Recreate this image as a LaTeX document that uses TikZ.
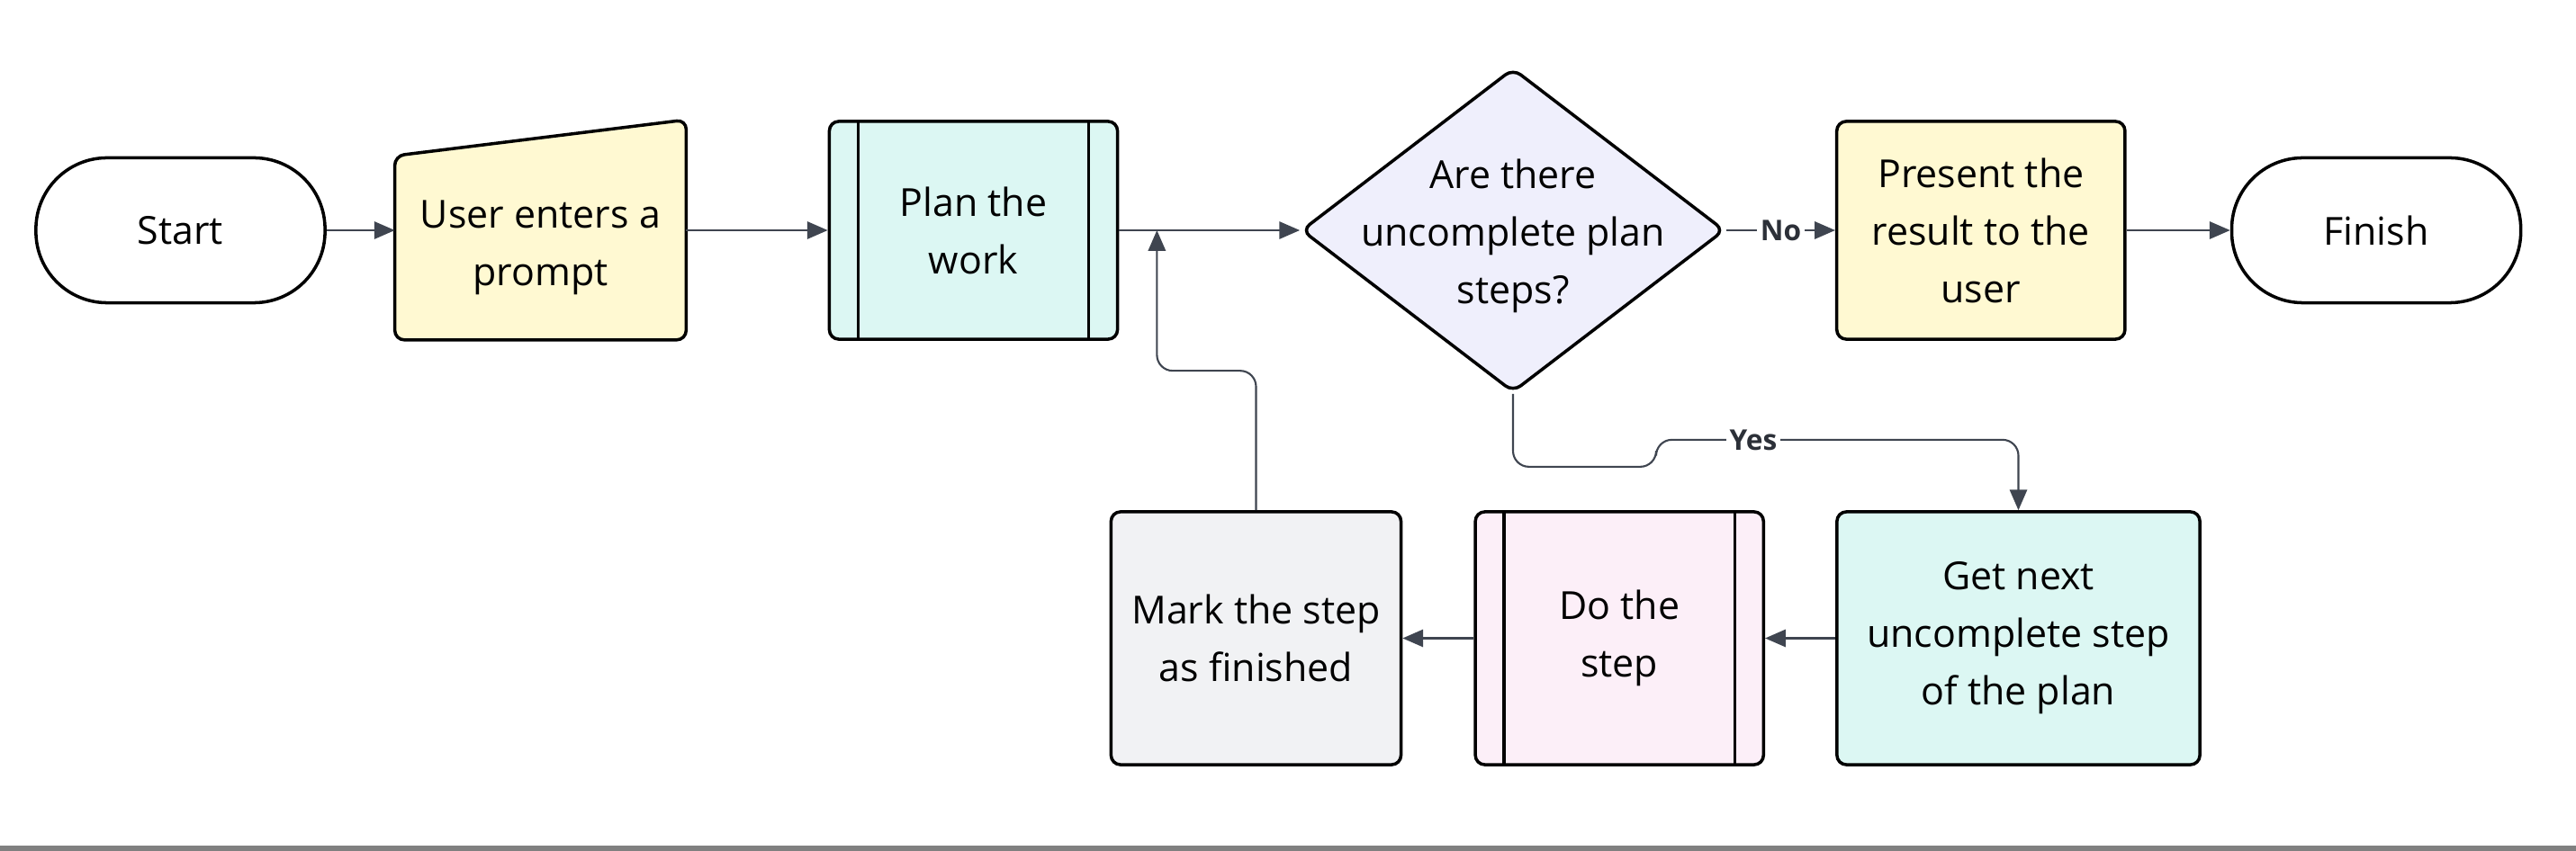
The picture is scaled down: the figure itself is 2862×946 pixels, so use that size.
\documentclass[tikz,border=0pt]{standalone}
\usepackage{fontspec}
\setmainfont{Open Sans}
\usetikzlibrary{shapes.geometric, arrows.meta, positioning, backgrounds}

\definecolor{lemon}{HTML}{FFF9D2}
\definecolor{aqua}{HTML}{DCF7F3}
\definecolor{lilac}{HTML}{EFEFFC}
\definecolor{blush}{HTML}{FCEFF8}
\definecolor{mist}{HTML}{F1F2F4}
\definecolor{wire}{HTML}{3F4550}

\begin{document}
\begin{tikzpicture}[
    x=0.01cm, y=-0.01cm,
    font=\fontsize{12.2}{18.2}\selectfont,
    >={Triangle[length=6.5pt, width=5.5pt]},
    terminal/.style={rectangle, draw=black, line width=1pt, fill=white, rounded corners=0.79cm, minimum width=3.21cm, minimum height=1.61cm},
    box/.style={rectangle, draw=black, line width=1pt, rounded corners=3pt, align=center, minimum width=3.2cm, minimum height=2.42cm},
    subproc/.style={box, path picture={
        \draw[line width=1pt] ([xshift=0.32cm]path picture bounding box.north west) -- ([xshift=0.32cm]path picture bounding box.south west);
        \draw[line width=1pt] ([xshift=-0.32cm]path picture bounding box.north east) -- ([xshift=-0.32cm]path picture bounding box.south east);}},
    decision/.style={diamond, draw=black, line width=1pt, fill=lilac, rounded corners=3pt, minimum width=4.7cm, minimum height=3.6cm, inner sep=0pt},
    flow/.style={->, draw=wire, line width=0.6pt},
    lbl/.style={fill=white, text=wire!70!black, font=\fontsize{9}{10}\selectfont\bfseries, inner sep=1pt}
]
    \useasboundingbox (0,0) rectangle (2862,946);

    % Top row
    \node (start) [terminal] at (200.5,256) {Start};
    \node (prompt) [box, draw=none, minimum height=2.01cm] at (600.5,275.5) {User enters a\\prompt};
    \begin{scope}[on background layer]
        \draw[line width=1pt, fill=lemon, rounded corners=3pt] (prompt.south west) -- (prompt.north west) -- ([yshift=0.4cm]prompt.north east) -- (prompt.south east) -- cycle;
    \end{scope}
    \node (plan) [subproc, fill=aqua] at (1081.5,256) {Plan the\\work};
    \node (dec) [decision, label={[align=center, yshift=-0.06cm]center:Are there\\uncomplete plan\\steps?}] at (1681,256) {};
    \node (present) [box, fill=lemon, right=1.21cm of dec] {Present the\\result to the\\user};
    \node (finish) [terminal, right=1.15cm of present] {Finish};

    % Bottom row
    \node (next) [box, fill=aqua, minimum width=4.03cm, minimum height=2.81cm] at (2242.5,709.5) {Get next\\uncomplete step\\of the plan};
    \node (do) [subproc, fill=blush, minimum height=2.81cm, left=0.78cm of next] {Do the\\step};
    \node (mark) [box, fill=mist, minimum width=3.22cm, minimum height=2.81cm, left=0.79cm of do] {Mark the step\\as finished};

    \coordinate[right=0.42cm of plan.east] (join);

    % Arrows
    \draw[flow] (start.east) -- (start.east -| prompt.west);
    \draw[flow] (prompt.east |- plan.west) -- (plan.west);
    \draw[flow] (plan) -- (dec);
    \draw[flow] (dec) -- node[lbl] {No} (present);
    \draw[flow] (present) -- (finish);
    \draw[flow, rounded corners=5pt] (dec.south) -- ++(0,81) -- ++(159,0) -- ++(0,-30) -- node[lbl] {Yes} ++(216,0) -| (next.north);
    \draw[flow] (next) -- (do);
    \draw[flow] (do) -- (mark);
    \draw[flow, rounded corners=5pt] (mark.north) -- ++(0,-155) -| (join);

    \fill[gray] (0,940) rectangle (2862,946);
\end{tikzpicture}
\end{document}
